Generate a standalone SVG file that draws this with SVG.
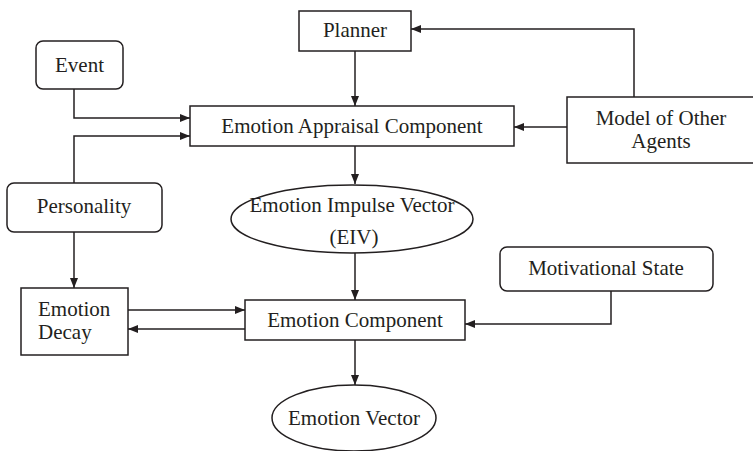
<svg xmlns="http://www.w3.org/2000/svg" width="753" height="451" viewBox="0 0 753 451">
  <style>
    .box { fill: #ffffff; stroke: #231f20; stroke-width: 1.5; }
    .link { fill: none; stroke: #231f20; stroke-width: 1.5; }
    .label { font-family: "Liberation Serif", "Times New Roman", serif; font-size: 21px; fill: #231f20; }
    .mid { text-anchor: middle; }
  </style>
  <defs>
    <marker id="arrow" markerUnits="userSpaceOnUse" markerWidth="10" markerHeight="10" viewBox="0 0 10 10" refX="10" refY="5" orient="auto">
      <path d="M0,1 L10,5 L0,9 Z" fill="#231f20"/>
    </marker>
  </defs>
  <rect width="753" height="451" fill="#ffffff"/>

  <!-- connectors -->
  <g id="connectors">
    <path class="link" d="M355,51 V106" marker-end="url(#arrow)"/>
    <path class="link" d="M74,89 V118 H190" marker-end="url(#arrow)"/>
    <path class="link" d="M74,183 V136 H190" marker-end="url(#arrow)"/>
    <path class="link" d="M634,97 V29 H411" marker-end="url(#arrow)"/>
    <path class="link" d="M567,127 H514" marker-end="url(#arrow)"/>
    <path class="link" d="M355,146 V184" marker-end="url(#arrow)"/>
    <path class="link" d="M74,232 V288" marker-end="url(#arrow)"/>
    <path class="link" d="M355,253 V300" marker-end="url(#arrow)"/>
    <path class="link" d="M128,310 H245" marker-end="url(#arrow)"/>
    <path class="link" d="M245,329 H128" marker-end="url(#arrow)"/>
    <path class="link" d="M611,291 V324 H465" marker-end="url(#arrow)"/>
    <path class="link" d="M355,340 V385" marker-end="url(#arrow)"/>
  </g>

  <g id="planner">
    <rect class="box" x="299" y="11" width="112" height="40"/>
    <text class="label mid" x="355" y="37">Planner</text>
  </g>

  <g id="event">
    <rect class="box" x="36" y="41" width="87" height="48" rx="7"/>
    <text class="label mid" x="79.5" y="72">Event</text>
  </g>

  <g id="appraisal">
    <rect class="box" x="190" y="106" width="324" height="40"/>
    <text class="label mid" x="352" y="133">Emotion Appraisal Component</text>
  </g>

  <g id="other-agents">
    <rect class="box" x="567" y="97" width="190" height="66"/>
    <text class="label mid" x="661" y="125">Model of Other</text>
    <text class="label mid" x="661" y="148">Agents</text>
  </g>

  <g id="personality">
    <rect class="box" x="7" y="183" width="155" height="49" rx="7"/>
    <text class="label mid" x="84" y="213">Personality</text>
  </g>

  <g id="eiv">
    <ellipse class="box" cx="352" cy="219" rx="121" ry="34"/>
    <text class="label mid" x="352" y="212">Emotion Impulse Vector</text>
    <text class="label mid" x="354" y="244">(EIV)</text>
  </g>

  <g id="motivational-state">
    <rect class="box" x="500" y="247" width="213" height="44" rx="7"/>
    <text class="label mid" x="606" y="275">Motivational State</text>
  </g>

  <g id="decay">
    <rect class="box" x="21" y="288" width="107" height="67"/>
    <text class="label" x="38" y="316">Emotion</text>
    <text class="label" x="38" y="339">Decay</text>
  </g>

  <g id="emotion-component">
    <rect class="box" x="245" y="300" width="220" height="40"/>
    <text class="label mid" x="355" y="327">Emotion Component</text>
  </g>

  <g id="emotion-vector">
    <ellipse class="box" cx="354" cy="418" rx="82" ry="33"/>
    <text class="label mid" x="354" y="425">Emotion Vector</text>
  </g>
</svg>
